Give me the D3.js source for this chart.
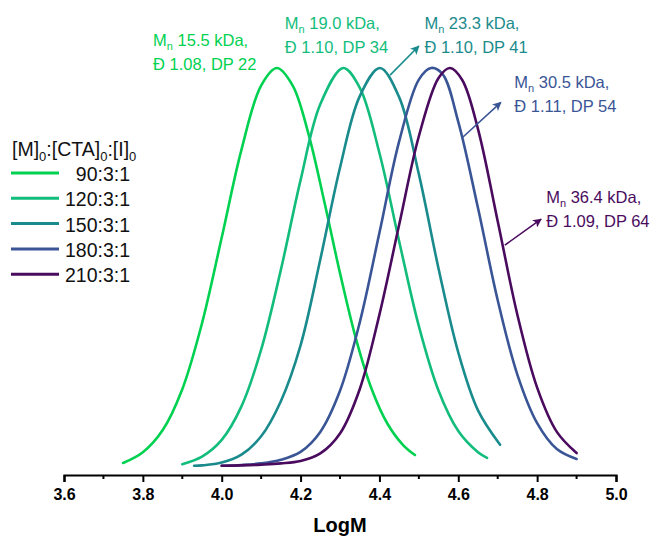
<!DOCTYPE html>
<html lang="en">
<head>
  <meta charset="UTF-8">
  <title>GPC traces - LogM</title>
  <script src="https://d3js.org/d3.v7.min.js"></script>
  <style>
    body { margin: 0; background: #fff; }
    text { font-family: "Liberation Sans", Arial, sans-serif; }
  </style>
</head>
<body>
  <div id="chart"></div>

  <script>
    // Series names (ratio [M]0:[CTA]0:[I]0)
    const seriesNames = ["90:3:1", "120:3:1", "150:3:1", "180:3:1", "210:3:1"];
    const seriesColors = ["#00d150", "#12bd7c", "#1a8b8c", "#3a5596", "#4a0b5e"];

    // Normalised traces, [LogM, intensity]
    const trace90 = [
      [3.75, 0.01], [3.80, 0.037], [3.85, 0.092], [3.90, 0.195], [3.95, 0.36],
      [4.00, 0.575], [4.05, 0.795], [4.10, 0.956], [4.14, 1.00], [4.18, 0.956],
      [4.22, 0.835], [4.26, 0.666], [4.30, 0.486], [4.34, 0.323], [4.38, 0.196],
      [4.42, 0.109], [4.46, 0.055], [4.49, 0.03]
    ];
    const trace120 = [
      [3.90, 0.007], [3.95, 0.026], [4.00, 0.068], [4.05, 0.152], [4.10, 0.294],
      [4.15, 0.494], [4.20, 0.719], [4.25, 0.909], [4.308, 1.00], [4.35, 0.951],
      [4.40, 0.787], [4.45, 0.566], [4.50, 0.353], [4.55, 0.191], [4.60, 0.09],
      [4.65, 0.037], [4.673, 0.023]
    ];
    const trace150 = [
      [3.93, 0.003], [3.95, 0.004], [4.00, 0.011], [4.05, 0.031], [4.10, 0.077],
      [4.15, 0.165], [4.20, 0.305], [4.25, 0.52], [4.30, 0.75], [4.35, 0.929],
      [4.401, 1.00], [4.45, 0.927], [4.50, 0.734], [4.55, 0.497], [4.60, 0.287],
      [4.65, 0.142], [4.706, 0.056]
    ];
    const trace180 = [
      [4.00, 0.003], [4.05, 0.005], [4.10, 0.009], [4.15, 0.018], [4.20, 0.038],
      [4.25, 0.088], [4.30, 0.191], [4.35, 0.362], [4.40, 0.587], [4.45, 0.816],
      [4.50, 0.971], [4.531, 1.00], [4.56, 0.985], [4.60, 0.865], [4.65, 0.649],
      [4.70, 0.418], [4.75, 0.231], [4.80, 0.11], [4.85, 0.045], [4.90, 0.02]
    ];
    const trace210 = [
      [4.00, 0.003], [4.05, 0.004], [4.10, 0.006], [4.15, 0.009], [4.20, 0.015],
      [4.25, 0.034], [4.30, 0.084], [4.35, 0.195], [4.40, 0.382], [4.45, 0.607],
      [4.50, 0.829], [4.55, 0.975], [4.579, 1.00], [4.61, 0.97], [4.65, 0.847],
      [4.70, 0.616], [4.75, 0.381], [4.80, 0.199], [4.85, 0.088], [4.90, 0.035]
    ];
    const traces = [trace90, trace120, trace150, trace180, trace210];

    // Annotation labels: Mn, dispersity, DP
    const annMn = ["15.5", "19.0", "23.3", "30.5", "36.4"];
    const annDisp = ["1.08", "1.10", "1.10", "1.11", "1.09"];
    const annDP = ["22", "34", "41", "54", "64"];
    // label anchor [LogM, intensity] of the first text line baseline
    const annPos = [[3.826, 1.055], [4.16, 1.098], [4.514, 1.098], [4.742, 0.95], [4.823, 0.662]];
    // arrows [from LogM, from y, to LogM, to y] (none for the first two)
    const annArrows = [null, null, [4.427, 0.982, 4.500, 1.055], [4.612, 0.827, 4.708, 0.914], [4.718, 0.556, 4.810, 0.621]];

    const xTicks = [3.6, 3.8, 4.0, 4.2, 4.4, 4.6, 4.8, 5.0];
    const xMinor = [3.7, 3.9, 4.1, 4.3, 4.5, 4.7, 4.9];

    const W = 651, H = 537;
    const svg = d3.select("#chart").append("svg")
      .attr("width", W).attr("height", H);

    const x = d3.scaleLinear().domain([3.6, 5.0]).range([64, 616]);
    const y = d3.scaleLinear().domain([0, 1]).range([467, 68]);

    // arrow heads
    const defs = svg.append("defs");
    seriesColors.forEach((c, i) => {
      defs.append("marker")
        .attr("id", "arr" + i)
        .attr("viewBox", "0 0 10 10")
        .attr("refX", 9).attr("refY", 5)
        .attr("markerWidth", 10).attr("markerHeight", 9)
        .attr("markerUnits", "userSpaceOnUse")
        .attr("orient", "auto")
        .append("path")
        .attr("d", "M0,0 L10,5 L0,10 L2.5,5 Z")
        .attr("fill", c);
    });

    // x axis
    const axisY = 475;
    const xAxis = svg.append("g")
      .attr("transform", "translate(0," + axisY + ")")
      .call(d3.axisBottom(x).tickValues(xTicks).tickFormat(d3.format(".1f")).tickSize(7).tickPadding(7));
    xAxis.select(".domain").attr("stroke", "#000").attr("stroke-width", 2.2);
    xAxis.selectAll(".tick line").attr("stroke", "#000").attr("stroke-width", 2);
    xAxis.selectAll(".tick text")
      .attr("fill", "#000")
      .style("font-size", "16px").style("font-weight", "bold")
      .style("font-family", "'Liberation Sans', Arial, sans-serif");

    // minor ticks
    svg.append("g").selectAll("line")
      .data(xMinor).enter().append("line")
      .attr("x1", d => x(d)).attr("x2", d => x(d))
      .attr("y1", axisY).attr("y2", axisY + 4)
      .attr("stroke", "#000").attr("stroke-width", 2);

    svg.append("text")
      .attr("x", x(4.3)).attr("y", 532)
      .attr("text-anchor", "middle")
      .style("font-size", "20px").style("font-weight", "bold")
      .text("LogM");

    // traces
    const line = d3.line()
      .x(d => x(d[0])).y(d => y(d[1]))
      .curve(d3.curveCatmullRom.alpha(0.5));

    svg.append("g").selectAll("path")
      .data(traces).enter().append("path")
      .attr("d", line)
      .attr("fill", "none")
      .attr("stroke", (d, i) => seriesColors[i])
      .attr("stroke-width", 2.6)
      .attr("stroke-linecap", "round");

    // annotations
    annMn.forEach((mn, i) => {
      const c = seriesColors[i];
      const px = x(annPos[i][0]), py = y(annPos[i][1]);
      const t = svg.append("text")
        .attr("x", px).attr("y", py)
        .attr("fill", c).style("font-size", "16.5px");
      t.append("tspan").text("M");
      t.append("tspan").attr("dy", 4).style("font-size", "11px").text("n");
      t.append("tspan").attr("dy", -4).text(" " + mn + " kDa,");
      svg.append("text")
        .attr("x", px).attr("y", py + 24)
        .attr("fill", c).style("font-size", "16.5px")
        .text("Đ " + annDisp[i] + ", DP " + annDP[i]);
      const a = annArrows[i];
      if (a) {
        svg.append("line")
          .attr("x1", x(a[0])).attr("y1", y(a[1]))
          .attr("x2", x(a[2])).attr("y2", y(a[3]))
          .attr("stroke", c).attr("stroke-width", 1.6)
          .attr("marker-end", "url(#arr" + i + ")");
      }
    });

    // legend
    const legend = svg.append("g").attr("transform", "translate(11,0)");
    const title = legend.append("text")
      .attr("x", 1).attr("y", 156)
      .style("font-size", "19.5px").attr("fill", "#111");
    title.append("tspan").text("[M]");
    title.append("tspan").attr("dy", 5).style("font-size", "13px").text("0");
    title.append("tspan").attr("dy", -5).text(":[CTA]");
    title.append("tspan").attr("dy", 5).style("font-size", "13px").text("0");
    title.append("tspan").attr("dy", -5).text(":[I]");
    title.append("tspan").attr("dy", 5).style("font-size", "13px").text("0");

    seriesNames.forEach((name, i) => {
      const ly = 173 + i * 25.3;
      legend.append("line")
        .attr("x1", 0).attr("x2", 48)
        .attr("y1", ly).attr("y2", ly)
        .attr("stroke", seriesColors[i]).attr("stroke-width", 3);
      legend.append("text")
        .attr("x", 119).attr("y", ly + 8)
        .attr("text-anchor", "end")
        .style("font-size", "19.5px").attr("fill", "#111")
        .text(name);
    });
  </script>
</body>
</html>
